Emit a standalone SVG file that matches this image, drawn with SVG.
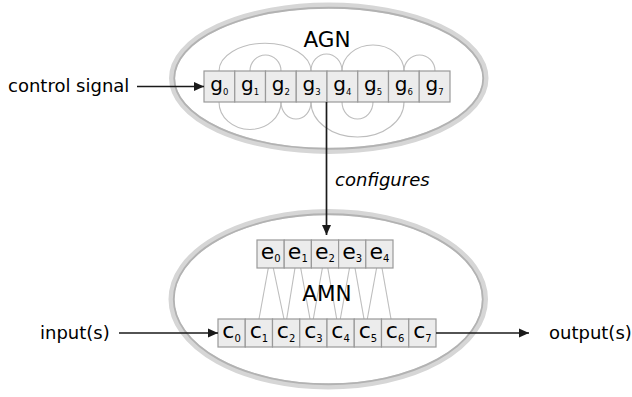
<svg xmlns="http://www.w3.org/2000/svg" width="632" height="397" viewBox="0 0 632 397">
<defs>
<style>
.ring{fill:none;stroke:#d6d6d6;stroke-width:6}
.ringin{fill:none;stroke:#b2b2b2;stroke-width:1.8}
.arc{fill:none;stroke:#bdbdbd;stroke-width:1.1}
.cell{fill:#ececec;stroke:#999;stroke-width:1.2}
.lbl{font-family:"DejaVu Sans",sans-serif;fill:#000}
.big{font-size:21.5px;text-anchor:middle}
.side{font-size:18px}
.g{font-size:20px;text-anchor:middle}
.ec{font-size:22px;text-anchor:middle}
.arrow{fill:none;stroke:#1a1a1a;stroke-width:1.7}
</style>
<marker id="ah" viewBox="0 0 10 10" refX="10" refY="5" markerWidth="10" markerHeight="10" markerUnits="userSpaceOnUse" orient="auto">
<path d="M0,0.5 L10,5 L0,9.5 Z" fill="#1a1a1a"/>
</marker>
</defs>
<rect width="632" height="397" fill="#fff"/>

<g id="AGN">
<ellipse class="ring" cx="328.75" cy="78.25" rx="156.75" ry="72.75" fill="#fff"/>
<ellipse class="ringin" cx="328.75" cy="78.25" rx="154.5" ry="70.5"/>
<text class="lbl big" x="327" y="47">AGN</text>
<path class="arc" d="M219,71 A46,27.7 0 0 1 311,71"/>
<path class="arc" d="M250,71 A15.5,16 0 0 1 281,71"/>
<path class="arc" d="M311,71 A15.5,17 0 0 1 342,71"/>
<path class="arc" d="M342,71 A31,26 0 0 1 404,71"/>
<path class="arc" d="M404,71 A15.5,16 0 0 1 435,71"/>
<path class="arc" d="M219,102 A31,27.5 0 0 0 281,102"/>
<path class="arc" d="M281,102 A15,17 0 0 0 311,102"/>
<path class="arc" d="M311,102 A46.5,35 0 0 0 404,102"/>
<path class="arc" d="M342,102 A15.5,17 0 0 0 373,102"/>
<g id="g-cells">
<rect class="cell" x="204" y="71" width="30.75" height="31"/>
<rect class="cell" x="234.75" y="71" width="30.75" height="31"/>
<rect class="cell" x="265.5" y="71" width="30.75" height="31"/>
<rect class="cell" x="296.25" y="71" width="30.75" height="31"/>
<rect class="cell" x="327" y="71" width="30.75" height="31"/>
<rect class="cell" x="357.75" y="71" width="30.75" height="31"/>
<rect class="cell" x="388.5" y="71" width="30.75" height="31"/>
<rect class="cell" x="419.25" y="71" width="30.75" height="31"/>
<text class="lbl g" x="219.4" y="90.5">g<tspan font-size="8.5" dy="4">0</tspan></text>
<text class="lbl g" x="250.1" y="90.5">g<tspan font-size="8.5" dy="4">1</tspan></text>
<text class="lbl g" x="280.9" y="90.5">g<tspan font-size="8.5" dy="4">2</tspan></text>
<text class="lbl g" x="311.6" y="90.5">g<tspan font-size="8.5" dy="4">3</tspan></text>
<text class="lbl g" x="342.4" y="90.5">g<tspan font-size="8.5" dy="4">4</tspan></text>
<text class="lbl g" x="373.1" y="90.5">g<tspan font-size="8.5" dy="4">5</tspan></text>
<text class="lbl g" x="403.9" y="90.5">g<tspan font-size="8.5" dy="4">6</tspan></text>
<text class="lbl g" x="434.6" y="90.5">g<tspan font-size="8.5" dy="4">7</tspan></text>
</g>
</g>

<g id="AMN">
<ellipse class="ring" cx="328.25" cy="299.25" rx="156.75" ry="87.25" fill="#fff"/>
<ellipse class="ringin" cx="328.25" cy="299.25" rx="154.5" ry="85"/>
<g id="e-c-links">
<line class="arc" x1="268.3" y1="268" x2="259" y2="319"/>
<line class="arc" x1="273.3" y1="268" x2="284" y2="319"/>
<line class="arc" x1="295" y1="268" x2="286.7" y2="319"/>
<line class="arc" x1="300.7" y1="268" x2="310" y2="319"/>
<line class="arc" x1="322.4" y1="268" x2="313.3" y2="319"/>
<line class="arc" x1="327.8" y1="268" x2="336.7" y2="319"/>
<line class="arc" x1="349.5" y1="268" x2="340.3" y2="319"/>
<line class="arc" x1="355" y1="268" x2="364" y2="319"/>
<line class="arc" x1="376.6" y1="268" x2="367.3" y2="319"/>
<line class="arc" x1="382" y1="268" x2="391" y2="319"/>
</g>
<text class="lbl big" x="327" y="301">AMN</text>
<g id="e-cells">
<rect class="cell" x="257" y="240" width="27.2" height="28"/>
<rect class="cell" x="284.2" y="240" width="27.2" height="28"/>
<rect class="cell" x="311.4" y="240" width="27.2" height="28"/>
<rect class="cell" x="338.6" y="240" width="27.2" height="28"/>
<rect class="cell" x="365.8" y="240" width="27.2" height="28"/>
<text class="lbl ec" x="270.6" y="258.5">e<tspan font-size="10" dy="3.5">0</tspan></text>
<text class="lbl ec" x="297.8" y="258.5">e<tspan font-size="10" dy="3.5">1</tspan></text>
<text class="lbl ec" x="325" y="258.5">e<tspan font-size="10" dy="3.5">2</tspan></text>
<text class="lbl ec" x="352.2" y="258.5">e<tspan font-size="10" dy="3.5">3</tspan></text>
<text class="lbl ec" x="379.4" y="258.5">e<tspan font-size="10" dy="3.5">4</tspan></text>
</g>
<g id="c-cells">
<rect class="cell" x="218" y="319" width="27.25" height="28"/>
<rect class="cell" x="245.25" y="319" width="27.25" height="28"/>
<rect class="cell" x="272.5" y="319" width="27.25" height="28"/>
<rect class="cell" x="299.75" y="319" width="27.25" height="28"/>
<rect class="cell" x="327" y="319" width="27.25" height="28"/>
<rect class="cell" x="354.25" y="319" width="27.25" height="28"/>
<rect class="cell" x="381.5" y="319" width="27.25" height="28"/>
<rect class="cell" x="408.75" y="319" width="27.25" height="28"/>
<text class="lbl ec" x="231.6" y="337.5">c<tspan font-size="10" dy="4.5">0</tspan></text>
<text class="lbl ec" x="258.9" y="337.5">c<tspan font-size="10" dy="4.5">1</tspan></text>
<text class="lbl ec" x="286.1" y="337.5">c<tspan font-size="10" dy="4.5">2</tspan></text>
<text class="lbl ec" x="313.4" y="337.5">c<tspan font-size="10" dy="4.5">3</tspan></text>
<text class="lbl ec" x="340.6" y="337.5">c<tspan font-size="10" dy="4.5">4</tspan></text>
<text class="lbl ec" x="367.9" y="337.5">c<tspan font-size="10" dy="4.5">5</tspan></text>
<text class="lbl ec" x="395.1" y="337.5">c<tspan font-size="10" dy="4.5">6</tspan></text>
<text class="lbl ec" x="422.4" y="337.5">c<tspan font-size="10" dy="4.5">7</tspan></text>
</g>
</g>

<g id="connectors">
<line class="arrow" x1="137" y1="86.5" x2="204" y2="86.5" marker-end="url(#ah)"/>
<line class="arrow" x1="326.5" y1="102" x2="326.5" y2="235" marker-end="url(#ah)"/>
<line class="arrow" x1="119" y1="333" x2="218" y2="333" marker-end="url(#ah)"/>
<line class="arrow" x1="436" y1="333" x2="529" y2="333" marker-end="url(#ah)"/>
</g>

<g id="labels">
<text class="lbl side" x="8" y="92">control signal</text>
<text class="lbl side" x="335" y="186" font-style="italic">configures</text>
<text class="lbl side" x="40" y="339">input(s)</text>
<text class="lbl side" x="549" y="339">output(s)</text>
</g>
</svg>
